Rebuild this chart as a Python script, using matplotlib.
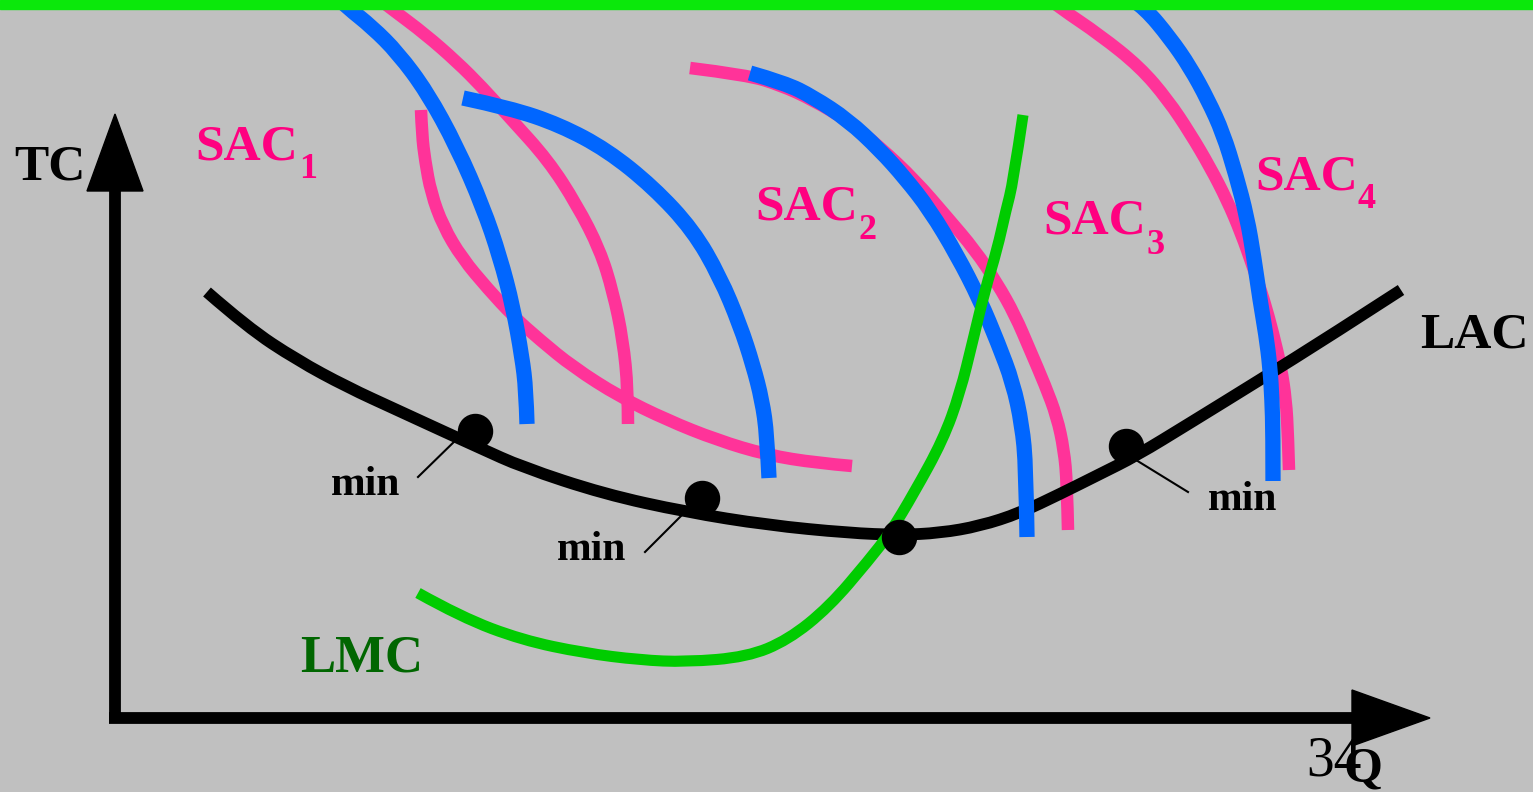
import matplotlib
matplotlib.use("Agg")
import matplotlib.pyplot as plt
from matplotlib.path import Path
from matplotlib.patches import Polygon, Rectangle, PathPatch

W, H = 1533, 792

# curve points, pixel coordinates (x right, y down)
lac = [(207, 292), (247, 327), (297, 360), (347, 387), (397, 410), (447, 433),
       (480, 448), (522, 467), (604, 494), (686, 512), (767, 525), (849, 533),
       (899, 535), (940, 533), (980, 526), (1020, 513), (1060, 494),
       (1100, 474), (1136, 456), (1190, 423), (1258, 381), (1330, 336),
       (1401, 290)]

lmc = [(418, 593), (461, 617), (522, 640), (584, 653), (640, 660), (686, 662),
       (747, 657), (788, 640), (829, 607), (869, 560), (890, 533), (914, 493),
       (943, 440), (960, 393), (973, 340), (985, 290), (997, 250), (1006, 210),
       (1013, 183), (1023, 115)]

sac1_pink_a = [(421, 110), (422, 135), (425, 160), (431, 193), (443, 226),
               (462, 258), (488, 289), (513, 316), (540, 340), (573, 367),
               (620, 397), (667, 420), (717, 440), (767, 455), (817, 463),
               (852, 466)]
sac1_pink_b = [(380, 0), (393, 10), (425, 34), (457, 62), (482, 87),
               (510, 118), (548, 160), (577, 205), (600, 250), (613, 292),
               (623, 340), (628, 390), (628, 424)]
sac1_blue_a = [(340, 0), (347, 7), (372, 27), (398, 53), (427, 92),
               (457, 147), (483, 207), (500, 257), (513, 307), (522, 357),
               (526, 390), (527, 424)]
sac1_blue_b = [(463, 98), (510, 108), (560, 125), (607, 150), (653, 187),
               (693, 230), (720, 277), (740, 325), (753, 365), (762, 400),
               (767, 435), (769, 478)]

sac2_pink = [(690, 68), (747, 75), (780, 85), (813, 100), (848, 121),
             (880, 147), (915, 180), (947, 217), (975, 250), (997, 283),
             (1015, 315), (1030, 350), (1045, 385), (1057, 417), (1064, 450),
             (1067, 483), (1068, 530)]
sac2_blue = [(750, 73), (785, 83), (813, 97), (848, 120), (880, 150),
             (905, 178), (930, 210), (957, 255), (980, 300), (998, 343),
             (1013, 383), (1022, 425), (1026, 467), (1027, 537)]

sac3_pink = [(1050, 0), (1060, 8), (1100, 35), (1140, 67), (1168, 100),
             (1190, 133), (1210, 167), (1227, 200), (1241, 233), (1253, 267),
             (1264, 300), (1273, 333), (1281, 367), (1286, 400), (1288, 435),
             (1289, 470)]
sac3_blue = [(1133, 0), (1145, 8), (1170, 38), (1190, 67), (1208, 100),
             (1223, 133), (1236, 175), (1247, 217), (1254, 258), (1260, 300),
             (1266, 335), (1270, 367), (1272, 400), (1273, 433), (1273, 481)]

# tangency points on LAC and their labels
dot_x = [475, 702, 899, 1126]
dot_y = [431, 498, 537, 446]
min_labels = [(331, 495), (557, 560), (1208, 510)]
leaders = [((418, 477), (460, 436)), ((645, 552), (682, 515)),
           ((1136, 460), (1188, 492))]

sac_labels = [("SAC", "1", 195, 160, 299, 178),
              ("SAC", "2", 755, 219, 858, 239),
              ("SAC", "3", 1043, 234, 1146, 254),
              ("SAC", "4", 1255, 189, 1358, 208)]

# axes arrows
y_axis = [(115, 722), (115, 188)]
y_head = [(115, 114), (87, 191), (143, 191)]
x_axis = [(109, 718), (1354, 718)]
x_head = [(1430, 718), (1352, 690), (1352, 746)]

PINK = "#ff3399"
BLUE = "#0066ff"
GREEN = "#00cc00"
LABEL_PINK = "#ff0080"
FONT = "Liberation Serif"

fig = plt.figure(figsize=(W / 100, H / 100), dpi=100)
fig.patch.set_facecolor("#c0c0c0")
ax = fig.add_axes([0, 0, 1, 1])
ax.set_xlim(0, W)
ax.set_ylim(H, 0)
ax.axis("off")


def curve(pts, color, lw, z):
    # quadratic bezier pieces through the midpoints of the control polygon
    verts = [pts[0]]
    codes = [Path.MOVETO]
    n = len(pts)
    for i in range(1, n - 1):
        if i == n - 2:
            end = pts[-1]
        else:
            end = ((pts[i][0] + pts[i + 1][0]) / 2,
                   (pts[i][1] + pts[i + 1][1]) / 2)
        verts += [pts[i], end]
        codes += [Path.CURVE3, Path.CURVE3]
    patch = PathPatch(Path(verts, codes), fill=False, edgecolor=color,
                      lw=lw, capstyle="butt", joinstyle="round", zorder=z)
    ax.add_patch(patch)


for pts in (sac1_pink_a, sac1_pink_b, sac2_pink, sac3_pink):
    curve(pts, PINK, 9, 2)
curve(lac, "black", 8.5, 3)
for pts in (sac1_blue_a, sac1_blue_b, sac2_blue, sac3_blue):
    curve(pts, BLUE, 11, 4)
curve(lmc, GREEN, 8, 5)

ax.plot(dot_x, dot_y, "o", color="black", ms=24.5, zorder=6)
for (x0, y0), (x1, y1) in leaders:
    ax.plot([x0, x1], [y0, y1], color="black", lw=1.5, zorder=6)
for x, y in min_labels:
    ax.text(x, y, "min", fontsize=30, fontweight="bold", family=FONT,
            ha="left", va="baseline", zorder=7)

for main, sub, x, y, sx, sy in sac_labels:
    ax.text(x, y, main, fontsize=37, fontweight="bold", family=FONT,
            color=LABEL_PINK, ha="left", va="baseline")
    ax.text(sx, sy, sub, fontsize=26, fontweight="bold", family=FONT,
            color=LABEL_PINK, ha="left", va="baseline")

ax.text(1420, 347, "LAC", fontsize=37, fontweight="bold", family=FONT,
        ha="left", va="baseline")
ax.text(300, 672, "LMC", fontsize=38, fontweight="bold", family=FONT,
        color="#006600", ha="left", va="baseline")
ax.text(14, 180, "TC", fontsize=37, fontweight="bold", family=FONT,
        ha="left", va="baseline")

# axes
xs, ys = zip(*y_axis)
ax.plot(xs, ys, color="black", lw=8.5, solid_capstyle="butt", zorder=8)
xs, ys = zip(*x_axis)
ax.plot(xs, ys, color="black", lw=8.5, solid_capstyle="butt", zorder=8)
ax.add_patch(Polygon(y_head, closed=True, color="black", zorder=8))
ax.add_patch(Polygon(x_head, closed=True, color="black", zorder=8))

ax.text(1306, 776, "34", fontsize=40, family=FONT, ha="left",
        va="baseline", zorder=9)
ax.text(1344, 782, "Q", fontsize=36, fontweight="bold", family=FONT,
        ha="left", va="baseline", zorder=9)

# green strip along the top
ax.add_patch(Rectangle((0, 0), W, 9, color="#0be80b", zorder=10))

fig.savefig("out.png", dpi=100, facecolor=fig.get_facecolor())
